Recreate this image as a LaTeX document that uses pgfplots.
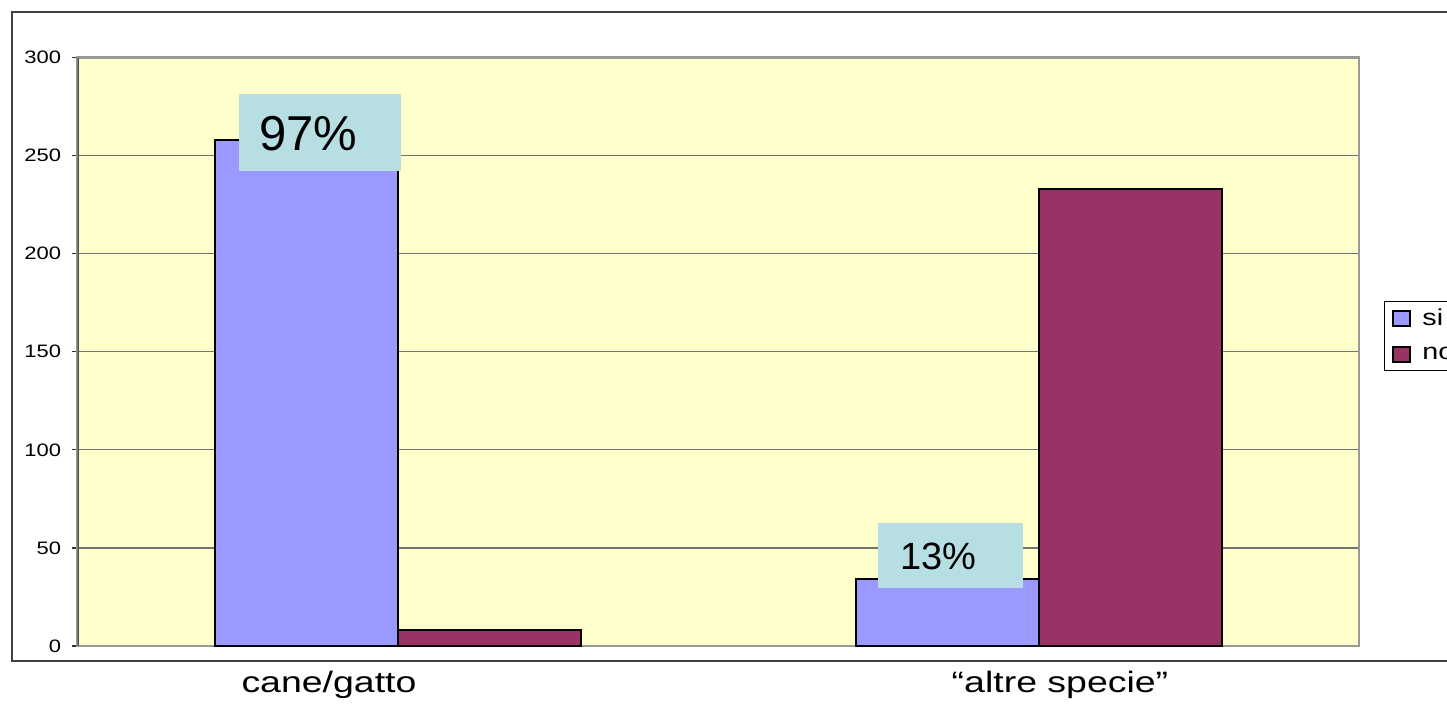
\documentclass[border=0pt]{standalone}
\usepackage{fontspec}
\setmainfont{Liberation Sans}
\usepackage{pgfplots}
\pgfplotsset{compat=1.18}

\definecolor{plotbg}{HTML}{FFFFCC}
\definecolor{siblue}{HTML}{9999FF}
\definecolor{nored}{HTML}{993366}
\definecolor{lblbox}{HTML}{B7DFE3}
\definecolor{framegray}{HTML}{999999}

\begin{document}
\begin{tikzpicture}
% page = 1447x703 px, 1 px = 0.5pt
\useasboundingbox (0,0) rectangle (723.5pt,351.5pt);
\clip (0,0) rectangle (723.5pt,351.5pt);
% outer chart frame (runs off the right edge)
\draw[black!75, line width=1pt] (740pt,345.5pt) -- (6pt,345.5pt) -- (6pt,21pt) -- (740pt,21pt);

\begin{axis}[
    at={(38.75pt,28.5pt)}, anchor=south west,
    width=640.75pt, height=294.25pt, scale only axis,
    ybar, bar width=91.5pt,
    xmin=-0.5, xmax=1.5,
    ymin=0, ymax=300,
    xtick=\empty,
    ytick={0,50,...,300},
    ytick pos=left,
    tick align=outside,
    major tick length=3pt,
    tick style={black!80, line width=0.6pt},
    /pgf/number format/assume math mode=true,
    yticklabel style={font=\fontsize{9}{10}\selectfont, inner sep=0pt, xshift=-5pt},
    yticklabel={\scalebox{1.22}[1]{\pgfmathprintnumber{\tick}}},
    ymajorgrids,
    grid style={color=black!55, line width=0.6pt},
    axis line style={framegray, line width=1.2pt},
    axis background/.style={fill=plotbg},
    legend style={at={(1.0195,0.587)}, anchor=north west, draw=black, line width=0.5pt,
        font=\fontsize{11.5}{13}\selectfont, row sep=5pt, inner xsep=4pt, inner ysep=2pt},
    legend cell align=left,
]
\addplot[fill=siblue, draw=black, line width=1pt, bar shift=-45.75pt,
    legend image code/.code={\draw[fill=siblue, draw=black, line width=1pt] (0pt,-3.7pt) rectangle (8.5pt,3.7pt); \path (12pt,0pt);}]
    coordinates {(0,258) (1,34)};
\addplot[fill=nored, draw=black, line width=1pt, bar shift=45.75pt,
    legend image code/.code={\draw[fill=nored, draw=black, line width=1pt] (0pt,-3.7pt) rectangle (8.5pt,3.7pt); \path (12pt,0pt);}]
    coordinates {(0,8) (1,233)};
\legend{\scalebox{1.25}[1]{si},\scalebox{1.25}[1]{no}}

% darker left axis line
\draw[black!70, line width=1pt] (rel axis cs:0,0) -- (rel axis cs:0,1);

% percentage labels
\fill[lblbox] (axis cs:-0.2485,281.6) rectangle (axis cs:0.0047,242.3);
\node[anchor=base west, inner sep=0pt, font=\fontsize{24.5}{29}\selectfont] at (axis cs:-0.2170,252.6) {97\%};
\fill[lblbox] (axis cs:0.7491,62.8) rectangle (axis cs:0.9754,29.6);
\node[anchor=base west, inner sep=0pt, font=\fontsize{19}{23}\selectfont] at (axis cs:0.7836,39.1) {13\%};
\end{axis}

% category labels
\node[anchor=base, inner sep=0pt, font=\fontsize{14.75}{17}\selectfont] at (164.5pt,5.5pt) {\scalebox{1.27}[1]{cane/gatto}};
\node[anchor=base, inner sep=0pt, font=\fontsize{14.75}{17}\selectfont] at (530pt,5.5pt) {\scalebox{1.27}[1]{“altre specie”}};
\end{tikzpicture}
\end{document}
